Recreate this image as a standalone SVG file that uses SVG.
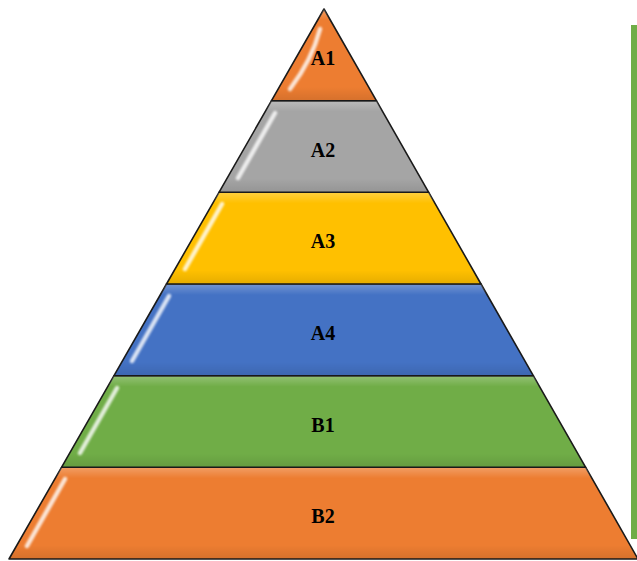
<svg xmlns="http://www.w3.org/2000/svg" width="637" height="561" viewBox="0 0 637 561">
  <style>
    .layer { stroke: #1a1a1a; stroke-width: 1.6; stroke-linejoin: round; }
    .gloss { fill: url(#shade); stroke: none; }
    .hl { fill: none; stroke: #ffffff; stroke-width: 4.5; stroke-linecap: round; opacity: 0.8; filter: url(#soft); }
    .lbl { font-family: "Liberation Serif", "Times New Roman", serif; font-weight: bold; font-size: 20px; fill: #000; text-anchor: middle; }
  </style>
  <defs>
    <linearGradient id="shade" x1="0" y1="0" x2="0" y2="1">
      <stop offset="0" stop-color="#ffffff" stop-opacity="0.25"/>
      <stop offset="0.12" stop-color="#ffffff" stop-opacity="0"/>
      <stop offset="0.85" stop-color="#000000" stop-opacity="0"/>
      <stop offset="1" stop-color="#000000" stop-opacity="0.1"/>
    </linearGradient>
    <filter id="soft" x="-50%" y="-50%" width="200%" height="200%">
      <feGaussianBlur stdDeviation="1"/>
    </filter>
  </defs>
  <rect width="637" height="561" fill="#ffffff"/>

  <g id="textbox-edge">
    <rect x="631" y="25" width="6" height="514" fill="#70AD47"/>
  </g>

  <g id="B2">
    <polygon class="layer" fill="#ED7D31" points="61.5,467.3 585.7,467.3 638,559 9,559"/>
    <polygon class="gloss" points="61.5,467.3 585.7,467.3 638,559 9,559"/>
    <line class="hl" x1="65" y1="479" x2="27" y2="546"/>
    <text class="lbl" x="323" y="523">B2</text>
  </g>
  <g id="B1">
    <polygon class="layer" fill="#70AD47" points="114,375.7 533.3,375.7 585.7,467.3 61.5,467.3"/>
    <polygon class="gloss" points="114,375.7 533.3,375.7 585.7,467.3 61.5,467.3"/>
    <line class="hl" x1="117" y1="388" x2="80" y2="453"/>
    <text class="lbl" x="323" y="431.5">B1</text>
  </g>
  <g id="A4">
    <polygon class="layer" fill="#4472C4" points="166.5,284 481,284 533.3,375.7 114,375.7"/>
    <polygon class="gloss" points="166.5,284 481,284 533.3,375.7 114,375.7"/>
    <line class="hl" x1="169" y1="296" x2="132" y2="361"/>
    <text class="lbl" x="323" y="340">A4</text>
  </g>
  <g id="A3">
    <polygon class="layer" fill="#FFC000" points="219,192.3 428.7,192.3 481,284 166.5,284"/>
    <polygon class="gloss" points="219,192.3 428.7,192.3 481,284 166.5,284"/>
    <line class="hl" x1="222" y1="204" x2="185" y2="269"/>
    <text class="lbl" x="323" y="248">A3</text>
  </g>
  <g id="A2">
    <polygon class="layer" fill="#A5A5A5" points="271.5,100.7 376.4,100.7 428.7,192.3 219,192.3"/>
    <polygon class="gloss" points="271.5,100.7 376.4,100.7 428.7,192.3 219,192.3"/>
    <line class="hl" x1="275" y1="113" x2="238" y2="178"/>
    <text class="lbl" x="323" y="156.5">A2</text>
  </g>
  <g id="A1">
    <polygon class="layer" fill="#ED7D31" points="324,9 376.4,100.7 271.5,100.7"/>
    <polygon class="gloss" points="324,9 376.4,100.7 271.5,100.7"/>
    <path class="hl" d="M320,29 Q312,60 290,89"/>
    <text class="lbl" x="323" y="65">A1</text>
  </g>
</svg>
